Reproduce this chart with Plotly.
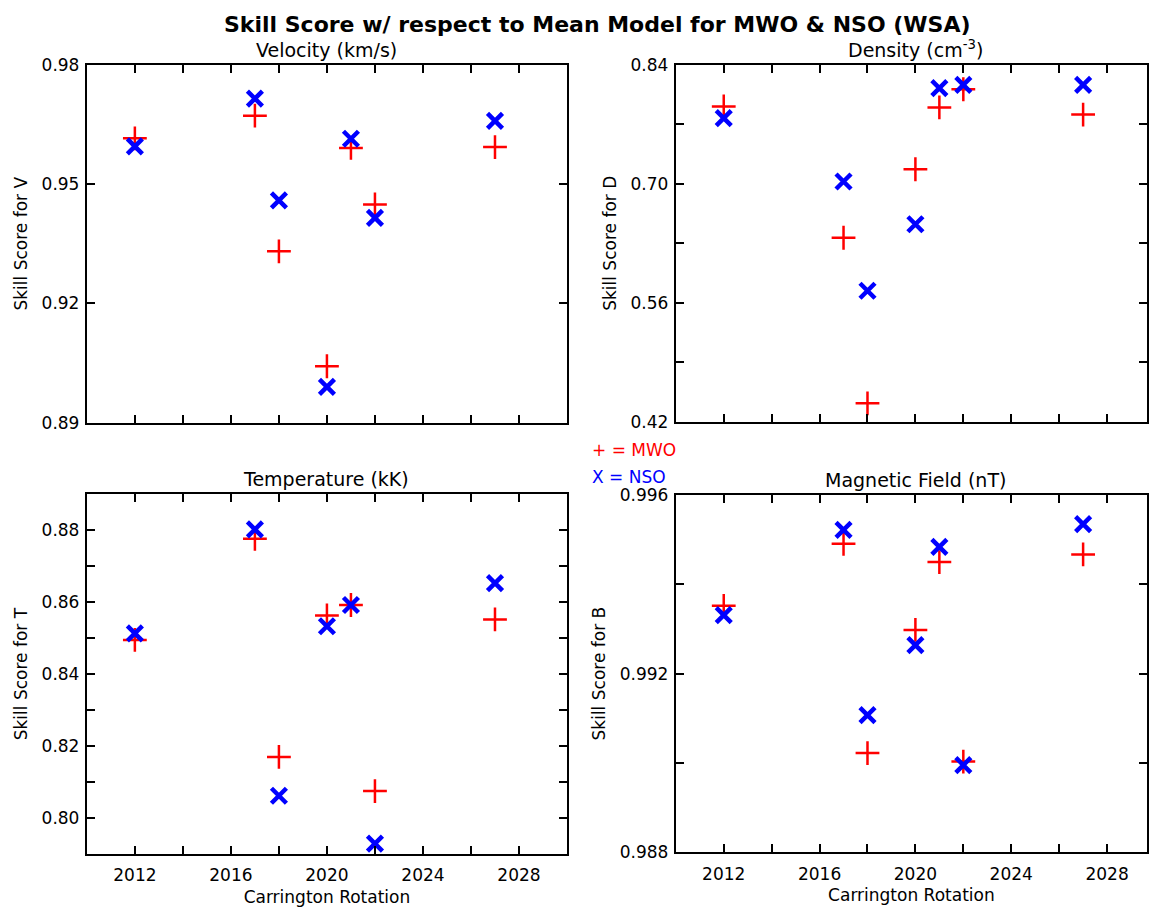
import plotly.graph_objects as go

# ---- data ----
carrington = [2012, 2017, 2018, 2020, 2021, 2022, 2027]

vel_mwo = [0.9615, 0.9672, 0.9331, 0.9042, 0.9591, 0.9449, 0.9593]
vel_nso = [0.9595, 0.9715, 0.9459, 0.8990, 0.9614, 0.9415, 0.9659]

den_mwo = [0.7909, 0.6365, 0.4417, 0.7171, 0.7898, 0.8112, 0.7814]
den_nso = [0.7772, 0.7027, 0.5741, 0.6524, 0.8126, 0.8164, 0.8164]

tem_mwo = [0.8495, 0.8776, 0.8170, 0.8563, 0.8592, 0.8075, 0.8552]
tem_nso = [0.8513, 0.8802, 0.8062, 0.8533, 0.8592, 0.7929, 0.8653]

mag_mwo = [0.99352, 0.99491, 0.99022, 0.99298, 0.99450, 0.99003, 0.99467]
mag_nso = [0.99331, 0.99522, 0.99107, 0.99264, 0.99484, 0.98995, 0.99535]

x_tickvals = [2012, 2014, 2016, 2018, 2020, 2022, 2024, 2026, 2028]
x_ticktext = ["2012", "", "2016", "", "2020", "", "2024", "", "2028"]

vel_tickvals = [0.89, 0.92, 0.95, 0.98]
vel_ticktext = ["0.89", "0.92", "0.95", "0.98"]
den_tickvals = [0.42, 0.49, 0.56, 0.63, 0.70, 0.77, 0.84]
den_ticktext = ["0.42", "", "0.56", "", "0.70", "", "0.84"]
tem_tickvals = [0.80, 0.81, 0.82, 0.83, 0.84, 0.85, 0.86, 0.87, 0.88]
tem_ticktext = ["0.80", "", "0.82", "", "0.84", "", "0.86", "", "0.88"]
mag_tickvals = [0.988, 0.990, 0.992, 0.994, 0.996]
mag_ticktext = ["0.988", "", "0.992", "", "0.996"]

panels = [
    # title, y-title, mwo, nso, yrange, tickvals, ticktext
    ("Velocity (km/s)", "Skill Score for V", vel_mwo, vel_nso, [0.89, 0.98], vel_tickvals, vel_ticktext),
    ("Density (cm<sup>-3</sup>)", "Skill Score for D", den_mwo, den_nso, [0.42, 0.84], den_tickvals, den_ticktext),
    ("Temperature (kK)", "Skill Score for T", tem_mwo, tem_nso, [0.79, 0.89], tem_tickvals, tem_ticktext),
    ("Magnetic Field (nT)", "Skill Score for B", mag_mwo, mag_nso, [0.988, 0.996], mag_tickvals, mag_ticktext),
]

W, H = 1149, 912
FONT = "DejaVu Sans"

# pixel boxes of the plot areas (left, right, top, bottom)
boxes = [(87, 568, 56, 422), (677, 1149, 56, 421), (87, 568, 495, 863), (677, 1149, 496, 861)]
xr_right = 2010 + (1149 - 677) / 24.0
xranges = [[2010, 2030], [2010, xr_right], [2010, 2030], [2010, xr_right]]
title_cx = [327, 917, 327, 917]

fig = go.Figure()
layout = dict(
    width=W, height=H,
    margin=dict(l=0, r=0, t=0, b=0),
    paper_bgcolor="white", plot_bgcolor="white",
    showlegend=False,
    font=dict(family=FONT, size=17, color="black"),
)
annotations = []

for i, (title, ytitle, mwo, nso, yr, tv, tt) in enumerate(panels):
    n = "" if i == 0 else str(i + 1)
    l, r, t, b = boxes[i]
    fig.add_trace(go.Scatter(
        x=carrington, y=mwo, mode="markers", name="MWO",
        xaxis="x" + n, yaxis="y" + n,
        marker=dict(symbol="cross-thin", size=17, line=dict(width=2.5, color="#ff0000")),
        cliponaxis=False,
    ))
    fig.add_trace(go.Scatter(
        x=carrington, y=nso, mode="markers", name="NSO",
        xaxis="x" + n, yaxis="y" + n,
        marker=dict(symbol="x-thin", size=15, line=dict(width=4.5, color="#0000ff")),
        cliponaxis=False,
    ))
    bottom = i >= 2
    xa = dict(
        domain=[l / W, r / W], range=xranges[i], anchor="y" + n,
        showgrid=False, zeroline=False, showline=True, linecolor="black", linewidth=2,
        mirror="ticks", ticks="inside", ticklen=8, tickwidth=1.5, tickcolor="black",
        tickvals=x_tickvals, ticktext=x_ticktext, showticklabels=bottom,
        tickfont=dict(size=17), ticklabelstandoff=5,
    )
    if bottom:
        xa["title"] = dict(text="Carrington Rotation", font=dict(size=17), standoff=7)
    ya = dict(
        domain=[1 - b / H, 1 - t / H], range=yr, anchor="x" + n,
        showgrid=False, zeroline=False, showline=True, linecolor="black", linewidth=2,
        mirror="ticks", ticks="inside", ticklen=8, tickwidth=1.5, tickcolor="black",
        tickvals=tv, ticktext=tt, tickfont=dict(size=17), ticklabelstandoff=2,
        title=dict(text=ytitle, font=dict(size=17), standoff=10),
    )
    layout["xaxis" + n] = xa
    layout["yaxis" + n] = ya
    annotations.append(dict(
        text=title, x=title_cx[i] / W, y=1 - (t - 3) / H, xref="paper", yref="paper",
        xanchor="center", yanchor="bottom", showarrow=False, font=dict(size=19),
        borderpad=0,
    ))

annotations.append(dict(
    text="<b>Skill Score w/ respect to Mean Model for MWO &amp; NSO (WSA)</b>",
    x=599 / W, y=1 - 15 / H, xref="paper", yref="paper",
    xanchor="center", yanchor="middle", showarrow=False, font=dict(size=22),
    borderpad=0,
))
annotations.append(dict(
    text="+ = MWO", x=591 / W, y=1 - 450 / H, xref="paper", yref="paper",
    xanchor="left", yanchor="middle", showarrow=False, font=dict(size=17, color="#ff0000"),
))
annotations.append(dict(
    text="X = NSO", x=591 / W, y=1 - 477 / H, xref="paper", yref="paper",
    xanchor="left", yanchor="middle", showarrow=False, font=dict(size=17, color="#0000ff"),
))
layout["annotations"] = annotations

fig.update_layout(**layout)
fig.write_html(
    "out.html",
    config={"displayModeBar": False},
    post_script="document.body.style.margin='0px'; document.body.style.overflow='hidden';",
)
